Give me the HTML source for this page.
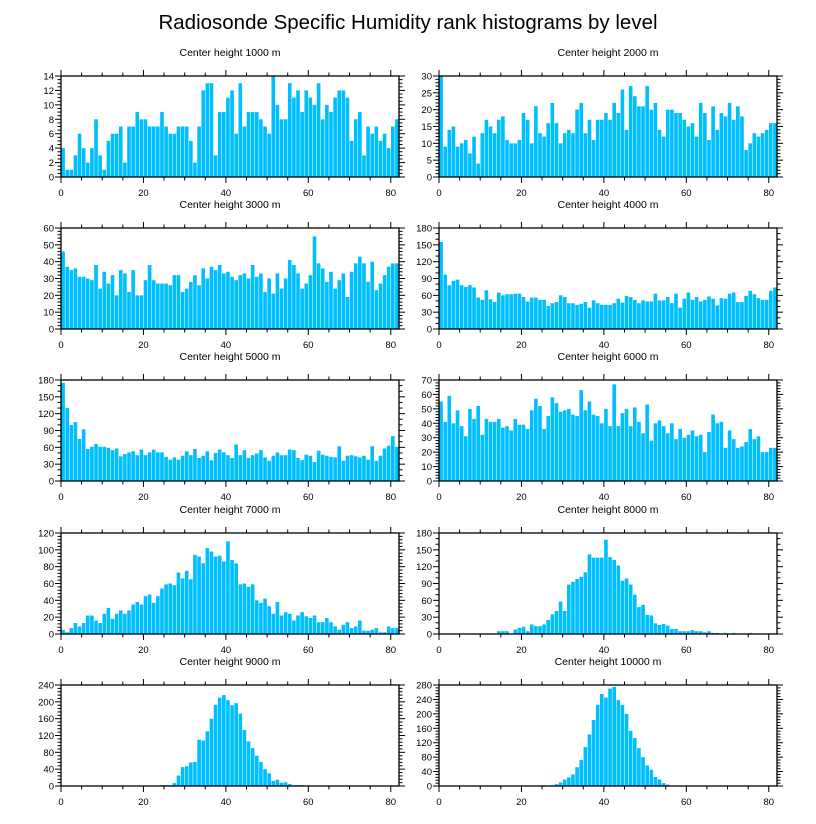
<!DOCTYPE html>
<html><head><meta charset="utf-8"><style>
html,body{margin:0;padding:0;background:#fff;}
svg{display:block;font-family:"Liberation Sans",sans-serif;}
</style></head><body>
<svg id="chart" width="816" height="824" viewBox="0 0 816 824" xmlns="http://www.w3.org/2000/svg">
<text x="408" y="29" text-anchor="middle" font-size="20.5">Radiosonde Specific Humidity rank histograms by level</text>
</svg>
<script>
const titles = ["Center height 1000 m","Center height 2000 m","Center height 3000 m","Center height 4000 m","Center height 5000 m","Center height 6000 m","Center height 7000 m","Center height 8000 m","Center height 9000 m","Center height 10000 m"];
const yMax = [14,30,60,180,180,70,120,180,240,280];
const yStep = [2,5,10,30,30,10,20,30,40,40];
const xTicks = [0,20,40,60,80];
const h1000 = [4,1,1,3,6,4,2,4,8,3,1,5,6,6,7,2,7,7,9,8,8,7,7,7,9,7,6,6,7,7,7,5,2,7,12,13,13,3,9,9,11,12,6,13,7,9,9,9,8,7,6,14,10,8,8,13,11,12,9,12,11,10,13,8,10,9,11,12,12,11,5,8,9,3,7,6,7,5,6,4,7,8];
const h2000 = [30,9,14,15,9,10,11,7,12,4,13,17,15,13,17,18,11,10,10,11,19,17,10,21,13,12,16,22,16,10,13,14,13,20,22,13,17,11,17,17,19,17,22,19,26,14,27,24,21,21,27,20,22,14,12,20,20,19,19,17,15,16,12,22,19,11,21,14,19,18,22,17,21,18,8,10,13,12,13,14,16,16];
const h3000 = [46,37,35,36,31,31,30,29,38,24,34,27,32,20,35,33,22,35,20,20,29,38,29,27,27,27,26,32,32,22,24,28,32,26,36,30,37,35,38,33,34,31,29,32,33,30,38,31,33,22,30,21,33,24,30,41,38,33,24,27,32,55,39,36,28,34,24,29,33,19,34,39,43,39,28,40,23,27,32,37,39,39];
const h4000 = [155,97,78,86,88,78,75,78,74,56,52,69,53,48,65,60,62,62,63,63,57,49,56,56,52,52,41,46,48,60,57,46,46,43,45,48,38,51,46,43,43,43,46,54,47,59,57,52,46,51,49,49,63,51,51,57,46,63,38,54,65,52,57,49,52,58,54,42,55,54,63,65,48,48,59,68,62,55,52,52,68,74];
const h5000 = [175,130,100,105,75,92,57,61,66,61,61,59,55,58,44,48,51,53,46,56,46,51,56,51,51,43,38,42,38,45,53,46,57,41,45,53,37,50,56,51,46,41,65,46,55,41,46,49,55,42,36,45,51,46,46,56,55,41,37,47,45,34,54,47,45,43,42,62,36,45,46,44,42,45,38,62,36,45,58,63,80,61];
const h6000 = [55,41,59,40,49,38,31,50,43,52,32,43,41,41,43,37,38,35,43,39,39,36,49,57,52,36,45,58,54,48,49,50,46,45,63,49,55,46,45,40,50,38,67,38,47,50,38,51,41,33,53,28,40,42,38,33,40,29,36,30,32,35,31,32,20,34,46,40,41,23,35,29,23,24,27,36,29,31,20,20,23,23];
const h7000 = [5,2,7,13,9,13,22,22,16,13,24,31,18,24,28,24,28,35,38,35,45,47,37,45,54,59,60,58,73,66,75,65,94,92,84,102,98,92,93,86,110,88,84,59,60,56,59,40,37,42,33,24,38,22,26,24,16,22,26,21,19,22,14,14,19,14,9,5,11,14,7,9,16,4,4,5,7,2,2,9,7,7];
const h8000 = [0,0,0,0,0,0,0,0,1,0,0,0,1,0,5,5,5,0,8,11,13,5,17,14,14,17,25,35,41,58,41,88,93,98,102,110,142,136,136,136,168,137,132,122,95,99,88,70,48,52,34,33,19,16,18,15,9,9,5,5,5,7,5,5,3,5,2,2,1,2,0,2,0,0,0,2,0,1,0,0,0,0];
const h9000 = [0,0,0,0,0,0,0,0,0,0,0,0,1,0,0,0,0,0,0,1,1,1,0,0,2,2,2,7,25,45,47,56,57,110,108,130,160,193,210,216,204,192,197,172,133,106,90,72,57,40,30,12,15,8,9,5,2,2,2,1,1,0,0,0,0,0,0,0,0,0,0,0,0,0,0,0,0,0,0,0,0,0];
const h10000 = [0,0,0,0,0,0,0,0,0,0,0,0,0,0,0,0,0,0,0,0,0,0,0,0,0,2,0,2,5,10,18,24,32,52,72,108,143,183,225,255,245,270,275,238,225,200,153,133,105,80,57,45,25,18,8,4,0,1,1,0,0,0,0,0,0,0,0,0,0,0,0,0,0,0,0,0,0,0,0,0,0,0];
const series = [h1000,h2000,h3000,h4000,h5000,h6000,h7000,h8000,h9000,h10000];

const NS = "http://www.w3.org/2000/svg";
const svg = document.getElementById('chart');
function mk(tag, attrs, parent){const e=document.createElementNS(NS,tag);for(const k in attrs)e.setAttribute(k,attrs[k]);parent.appendChild(e);return e;}
const colsX = [61, 439], W = 338, H = 101;
const rowsY = [76, 228, 380, 533, 685];
const XMAX = 82;
series.forEach((vals, p) => {
  const left = colsX[p % 2], top = rowsY[Math.floor(p / 2)];
  const xs = v => left + v / XMAX * W;
  const ys = v => top + H - v / yMax[p] * H;
  const g = mk('g', {}, svg);
  
  
  const t = mk('text', {x: left + W / 2, y: top - 20, 'text-anchor': 'middle', 'font-size': 10.5}, g);
  t.textContent = titles[p];
  
  
  vals.forEach((v, i) => {
    if (v <= 0) return;
    const r = mk('rect', {x: xs(i) + 0.25, y: ys(v), width: xs(i + 1) - xs(i) - 0.5, height: ys(0) - ys(v), fill: '#00bfff'}, g);
    
    
  });
  const f = mk('rect', {x: left, y: top, width: W, height: H, fill: 'none', stroke: '#000', 'stroke-width': 1.3}, g);
  
  
  for (let v = 0; v <= 80; v += 5) {
    const L = v % 20 === 0 ? 6 : 3.5;
    mk('line', {x1: xs(v), x2: xs(v), y1: top + H, y2: top + H + L, stroke: '#000', 'stroke-width': 1}, g);
    mk('line', {x1: xs(v), x2: xs(v), y1: top, y2: top - L, stroke: '#000', 'stroke-width': 1}, g);
  }
  xTicks.forEach(v => {
    const tl = mk('text', {x: xs(v), y: top + H + 19, 'text-anchor': 'middle', 'font-size': 9.5}, g);
    tl.textContent = v;
    
    
  });
  const minor = yStep[p] / (yStep[p] % 3 === 0 ? 3 : (yStep[p] === 2 ? 4 : 5));
  for (let v = 0; v <= yMax[p] + 1e-9; v += minor) {
    const isMaj = Math.abs(v / yStep[p] - Math.round(v / yStep[p])) < 1e-6;
    const L = isMaj ? 6 : 3.5;
    mk('line', {x1: left, x2: left - L, y1: ys(v), y2: ys(v), stroke: '#000', 'stroke-width': 1}, g);
    mk('line', {x1: left + W, x2: left + W + L, y1: ys(v), y2: ys(v), stroke: '#000', 'stroke-width': 1}, g);
  }
  for (let v = 0; v <= yMax[p]; v += yStep[p]) {
    const yl = mk('text', {x: left - 7, y: ys(v) + 3.5, 'text-anchor': 'end', 'font-size': 9.5}, g);
    yl.textContent = v;
    
    
  }
});
</script>
</body></html>
